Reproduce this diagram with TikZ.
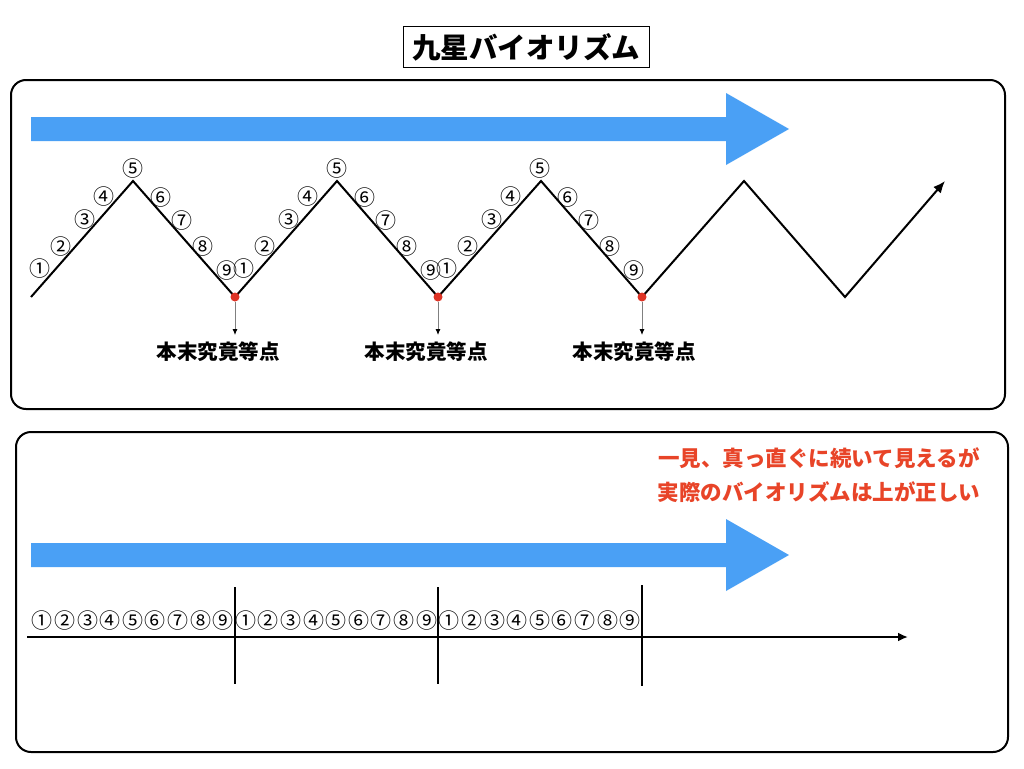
\documentclass[tikz,border=0pt]{standalone}
\usepackage{fontspec}
\setmainfont{Noto Sans CJK JP}
\usetikzlibrary{arrows.meta}
\definecolor{arrowblue}{RGB}{74,160,245}
\definecolor{dotred}{RGB}{222,52,38}
\definecolor{textred}{RGB}{232,68,40}
\begin{document}
\begin{tikzpicture}[x=1pt,y=-1pt,
  panel/.style={draw=black,line width=2pt,rounded corners=15pt},
  bigarrow/.style={fill=arrowblue},
  zig/.style={draw=black,line width=2pt,line join=miter},
  num/.style={font=\fontsize{21}{21}\selectfont,inner sep=0pt},
  reddot/.style={circle,fill=dotred,minimum size=9pt,inner sep=0pt},
  pointer/.style={draw=gray,line width=1pt,-{Latex[length=6pt,width=5pt,color=black]}},
  lbl/.style={font=\fontsize{20.5}{22}\selectfont\bfseries,inner sep=0pt,outer sep=7pt},
  redtext/.style={font=\fontsize{21.5}{24}\selectfont\bfseries,text=textred,inner sep=0pt},
  axisline/.style={draw=black,line width=2.5pt,-{Latex[length=10pt,width=9pt]}},
  tick/.style={draw=black,line width=2pt},
  titlebox/.style={draw=black,line width=1pt,font=\fontsize{28.5}{30}\selectfont\bfseries,minimum width=246pt,minimum height=40pt,inner sep=0pt}
]
\useasboundingbox (0,0) rectangle (1024,768);
\fill[white] (0,0) rectangle (1024,768);

% title
\node[titlebox] (title) at (526,47) {九星バイオリズム};

% panels
\draw[panel] (11,80) rectangle (1005,409);
\draw[panel] (16,432) rectangle (1008,752);

% big blue arrows
\fill[bigarrow] (31,117) -- (726,117) -- (726,93) -- (789,129) -- (726,165) -- (726,141) -- (31,141) -- cycle;
\fill[bigarrow] (31,543) -- (726,543) -- (726,519) -- (789,555) -- (726,591) -- (726,567) -- (31,567) -- cycle;

% zigzag
\coordinate (v0) at (31,297);
\coordinate (v1) at (133,181);
\coordinate (v2) at (235,297);
\coordinate (v3) at (337,181);
\coordinate (v4) at (438,297);
\coordinate (v5) at (541,181);
\coordinate (v6) at (642,297);
\coordinate (v7) at (744,181);
\coordinate (v8) at (845,297);
\coordinate (v9) at (945,181);
\draw[zig,-{Latex[length=12pt,width=10pt]}] (v0) -- (v1) -- (v2) -- (v3) -- (v4) -- (v5) -- (v6) -- (v7) -- (v8) -- (v9);

% circled numbers along zigzag
\foreach \k in {0,1,2}{
  \pgfmathsetmacro\b{31+203.7*\k}
  \foreach \dx/\yy/\c [count=\i] in {9/269/①,30/247/②,54/220/③,73/197/④,102/169/⑤,130/198/⑥,151/221/⑦,172/247/⑧,196/271/⑨}{
    \node[num] (z\k-\i) at (\b+\dx,\yy) {\c};
  }
}

% turning points
\node[reddot] (d1) at (v2) {};
\node[reddot] (d2) at (v4) {};
\node[reddot] (d3) at (v6) {};
\node[lbl] (L1) at (218,352) {本末究竟等点};
\node[lbl] (L2) at (426,352) {本末究竟等点};
\node[lbl] (L3) at (634,352) {本末究竟等点};
\draw[pointer] (d1) -- (d1 |- L1.north);
\draw[pointer] (d2) -- (d2 |- L2.north);
\draw[pointer] (d3) -- (d3 |- L3.north);

% red text
\node[redtext] (red1) at (819,458) {一見、真っ直ぐに続いて見えるが};
\node[redtext] (red2) at (819,492) {実際のバイオリズムは上が正しい};

% bottom number line
\coordinate (ax0) at (27,637);
\coordinate (ax1) at (908,637);
\draw[axisline] (ax0) -- (ax1);
\coordinate (t1a) at (235,587); \coordinate (t1b) at (235,684);
\coordinate (t2a) at (438,587); \coordinate (t2b) at (438,684);
\coordinate (t3a) at (642,585); \coordinate (t3b) at (642,686);
\draw[tick] (t1a) -- (t1b);
\draw[tick] (t2a) -- (t2b);
\draw[tick] (t3a) -- (t3b);
\foreach \k in {0,1,2}{
  \foreach \c [count=\i] in {①,②,③,④,⑤,⑥,⑦,⑧,⑨}{
    \node[num] (r\k-\i) at ({31+203.5*\k+11.3+22.6*(\i-1)},621) {\c};
  }
}
\end{tikzpicture}
\end{document}
